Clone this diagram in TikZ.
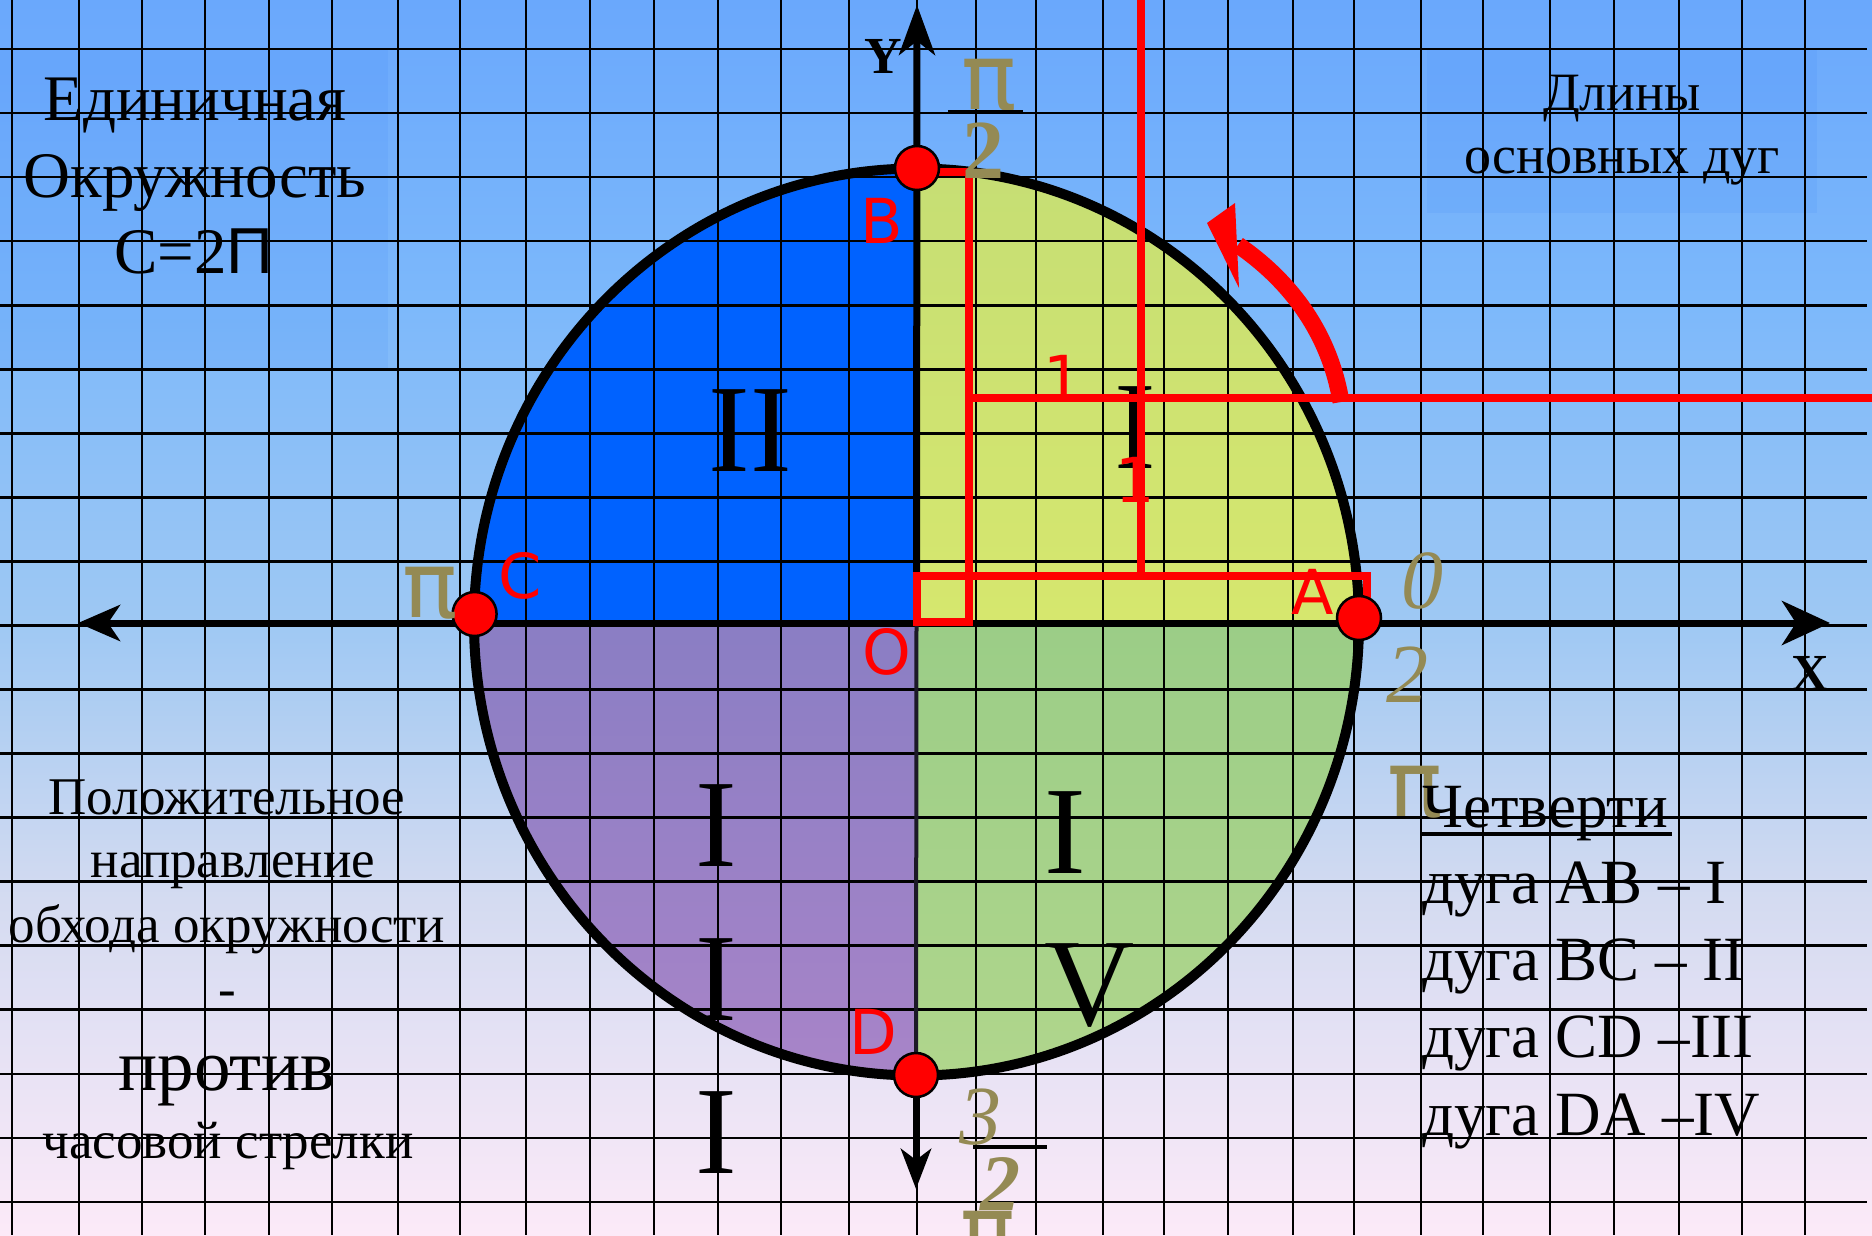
\documentclass[tikz,border=0pt]{standalone}
\usepackage{fontspec}
\setmainfont{Liberation Serif}
\newfontfamily\lsans{Liberation Sans}
\newfontfamily\dvsans{DejaVu Sans}
\usetikzlibrary{arrows.meta}

\definecolor{bgA}{RGB}{106,168,252}
\definecolor{bgB}{RGB}{124,184,251}
\definecolor{bgC}{RGB}{158,200,243}
\definecolor{bgD}{RGB}{212,219,241}
\definecolor{bgE}{RGB}{252,234,248}
\pgfdeclareverticalshading{bgshade}{100bp}{color(0bp)=(bgE); color(25bp)=(bgE); color(38.6bp)=(bgD); color(49.9bp)=(bgC); color(62.9bp)=(bgB); color(75bp)=(bgA); color(100bp)=(bgA)}

\definecolor{qonetop}{RGB}{198,222,116}
\definecolor{qonebot}{RGB}{214,231,110}
\definecolor{qtwo}{RGB}{0,98,255}
\definecolor{qthreetop}{RGB}{138,126,196}
\definecolor{qthreebot}{RGB}{168,132,200}
\definecolor{qfourtop}{RGB}{155,205,135}
\definecolor{qfourbot}{RGB}{176,214,140}
\definecolor{olivegold}{RGB}{148,138,84}
\definecolor{pureRed}{RGB}{255,0,0}
\definecolor{boxtint}{RGB}{60,130,245}

\tikzset{
  gridline/.style={line width=2.6pt, black},
  axisline/.style={line width=7pt, black},
  redline/.style={line width=7.5pt, pureRed},
  pointdot/.style={circle, fill=pureRed, draw=black, line width=2.5pt, minimum size=44pt, inner sep=0pt},
  redlbl/.style={text=pureRed, font=\dvsans\fontsize{62}{62}\selectfont, inner sep=0pt},
  romanlbl/.style={font=\fontsize{125}{125}\selectfont, inner sep=0pt},
  pilbl/.style={text=olivegold, font=\dvsans\fontsize{92}{92}\selectfont, inner sep=0pt},
  digitlbl/.style={text=olivegold, font=\itshape\fontsize{84}{84}\selectfont, inner sep=0pt},
  fracbar/.style={line width=4pt, black},
  bigtext/.style={font=\fontsize{65}{78}\selectfont, inner sep=0pt, anchor=base},
  midtext/.style={font=\fontsize{54}{64}\selectfont, inner sep=0pt, anchor=base},
  smalltext/.style={font=\fontsize{53}{64}\selectfont, inner sep=0pt, anchor=base},
  listtext/.style={font=\fontsize{63}{76}\selectfont, inner sep=0pt, anchor=base west},
  axlbl/.style={font=\bfseries\fontsize{52}{52}\selectfont, inner sep=0pt}
}

\begin{document}
\begin{tikzpicture}[x=1pt,y=-1pt]
\useasboundingbox (0,0) rectangle (1872,1235);
% background
\shade[shading=bgshade] (0,0) rectangle (1872,1235);
\fill[boxtint, opacity=0.12] (0,50) rectangle (388,370);
\fill[boxtint, opacity=0.12] (1427,50) rectangle (1817,213);

% geometry
\coordinate (O) at (916.5,622);
\def\rx{442.5}
\def\ry{453.5}

% quadrants
\shade[top color=qonetop, bottom color=qonebot] (O) -- ++(\rx,0) arc[start angle=0, end angle=-90, x radius=\rx, y radius=\ry] -- cycle;
\fill[qtwo] (O) -- ++(0,-\ry) arc[start angle=-90, end angle=-180, x radius=\rx, y radius=\ry] -- cycle;
\shade[top color=qthreetop, bottom color=qthreebot] (O) -- ++(-\rx,0) arc[start angle=180, end angle=90, x radius=\rx, y radius=\ry] -- cycle;
\shade[top color=qfourtop, bottom color=qfourbot] (O) -- ++(0,\ry) arc[start angle=90, end angle=0, x radius=\rx, y radius=\ry] -- cycle;

% grid
\foreach \gx in {12,79,142,205,269,332,398,460,526,590,654,718,781,849,917,976,1036,1103,1164,1228,1293,1354,1421,1483,1550,1614,1679,1742,1805}
  \draw[gridline] (\gx,0) -- (\gx,1235);
\foreach \j in {0,...,18}
  \draw[gridline] (0,49+64.05*\j) -- (1867,49+64.05*\j);

% circle
\draw[line width=10pt, black] (O) ellipse[x radius=\rx, y radius=\ry];

% points (positions)
\coordinate (Bc) at (917,168);
\coordinate (Ac) at (1359,618);
\coordinate (Cc) at (474.6,614);
\coordinate (Dc) at (916,1075);

% axes
\coordinate (Xl) at (78,623);
\coordinate (Xr) at (1830,623);
\coordinate (Yt) at (917,5);
\coordinate (Yb) at (916,1189);
\draw[axisline, {Stealth[length=42pt,width=36pt,inset=12pt]}-{Stealth[length=48pt,width=44pt,inset=14pt]}] (Xl) -- (Xr);
\draw[axisline, -{Stealth[length=50pt,width=36pt,inset=14pt]}] (O) -- (Yt);
\draw[line width=4pt, black!80!qthreetop] (O) -- (Dc);
\draw[axisline, -{Stealth[length=40pt,width=30pt,inset=11pt]}] (Dc) -- (Yb);

% roman numerals
\node[romanlbl] (rII) at (750,431) {II};
\node[romanlbl] (rIa) at (1135,428) {I};
\node[romanlbl] (rIVa) at (1065,833) {I};
\node[romanlbl] (rIVb) at (1090,986) {V};
\node[romanlbl] (rIIIa) at (716,826) {I};
\node[romanlbl] (rIIIb) at (716,980) {I};
\node[romanlbl] (rIIIc) at (716,1133) {I};

% red construction lines
\coordinate (Bs) at (917,172);
\coordinate (Bk) at (969,172);
\coordinate (Sq1) at (917,576);
\coordinate (Sq2) at (969,622);
\coordinate (Ak) at (1367,576);
\coordinate (Ae) at (1367,600);
\coordinate (Hl) at (969,398);
\coordinate (Hr) at (1872,398);
\coordinate (Vt) at (1141,0);
\coordinate (Vb) at (1141,576);
\draw[redline] (Bs) -- (Bk) -- (Sq2);
\draw[redline] (Sq1) rectangle (Sq2);
\draw[redline] (Sq1) -- (Ak) -- (Ae);
\draw[redline] (Hl) -- (Hr);
\draw[redline] (Vt) -- (Vb);

% red curved arrow
\coordinate (Ra) at (1341,402);
\coordinate (Rb) at (1238,245);
\draw[pureRed, line width=17pt] (Ra) .. controls (1330,335) and (1292,282) .. (Rb);
\coordinate (Rtip) at (1207,223);
\coordinate (Rw1) at (1235,203);
\coordinate (Rw2) at (1239,288);
\fill[pureRed] (Rtip) -- (Rw1) -- (Rw2) -- cycle;

% points
\node[pointdot] (B) at (Bc) {};
\node[pointdot] (A) at (Ac) {};
\node[pointdot] (C) at (Cc) {};
\node[pointdot] (D) at (Dc) {};

% red labels
\node[redlbl] (lB) at (882,221) {B};
\node[redlbl] (lC) at (520,576) {C};
\node[redlbl] (lO) at (887,652) {O};
\node[redlbl] (lA) at (1313,592) {A};
\node[redlbl] (lD) at (873,1032) {D};
\node[redlbl] (one1) at (1063,378) {1};
\node[redlbl] (one2) at (1135,480) {1};

% axis labels
\node[axlbl] (ly) at (883,56) {Y};
\node[axlbl] (lx) at (1810,673) {X};

% olive labels
\node[pilbl] (piB) at (989,85) {π};
\node[text=olivegold, font=\bfseries\fontsize{84}{84}\selectfont, inner sep=0pt] (twoB) at (983,151) {2};
\draw[fracbar] (948,112) -- (1023,112);
\node[pilbl] (piC) at (430,593) {π};
\node[digitlbl] (zeroA) at (1422,581) {0};
\node[digitlbl] (twoA) at (1407,675) {2};
\node[pilbl] (piQ) at (1415,792) {π};
\node[digitlbl] (threeD) at (980,1117) {3};
\draw[fracbar] (973,1147) -- (1047,1147);
\node[text=olivegold, font=\bfseries\itshape\fontsize{80}{80}\selectfont, inner sep=0pt] (twoD) at (1000,1184) {2};
\node[pilbl] (piD) at (988,1237) {π};

% texts top-left
\node[bigtext] (tl1) at (195,120) {Единичная};
\node[bigtext] (tl2) at (195,197) {Окружность};
\node[bigtext] (tl3) at (194,273) {С=2{\lsans П}};

% texts top-right
\node[midtext] (tr1) at (1622,110) {Длины};
\node[midtext] (tr2) at (1622,173) {основных дуг};

% texts bottom-left
\node[smalltext] (bl1) at (227,814) {Положительное};
\node[smalltext] (bl2) at (233,877) {направление};
\node[smalltext] (bl3) at (227,942) {обхода окружности};
\node[smalltext] (bl4) at (227,1006) {-};
\node[font=\fontsize{73}{86}\selectfont, inner sep=0pt, anchor=base] (bl5) at (227,1090) {против};
\node[smalltext] (bl6) at (228,1158) {часовой стрелки};

% texts bottom-right
\node[listtext] (br1) at (1422,827) {Четверти};
\draw[line width=4pt, black] (1422,834) -- (1672,834);
\node[listtext] (br2) at (1422,903) {дуга AB – I};
\node[listtext] (br3) at (1422,980) {дуга BC – II};
\node[listtext] (br4) at (1422,1057) {дуга CD –III};
\node[listtext] (br5) at (1422,1135) {дуга DA –IV};
\end{tikzpicture}
\end{document}
